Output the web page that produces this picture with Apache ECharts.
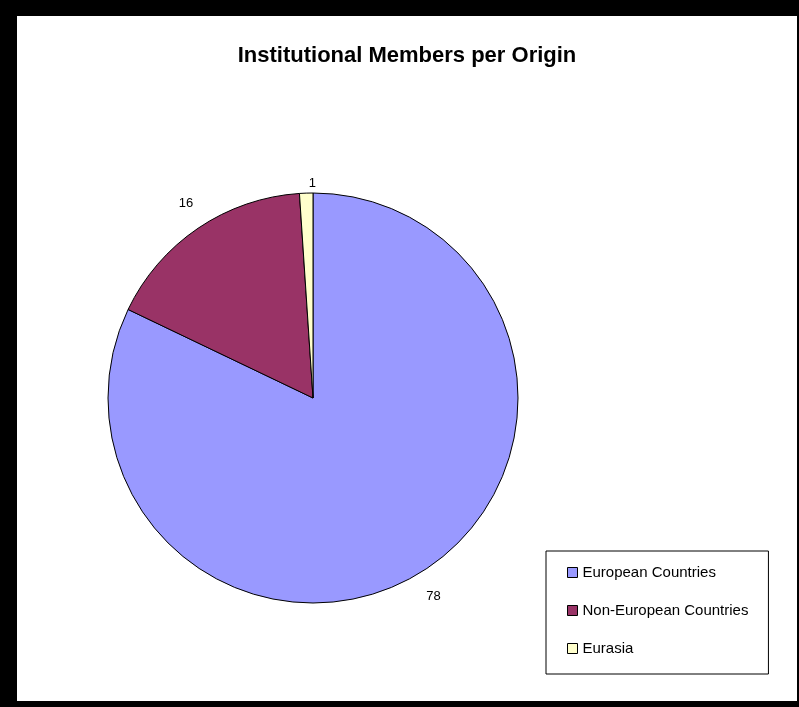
<!DOCTYPE html>
<html>
<head>
<meta charset="utf-8">
<script src="https://cdn.jsdelivr.net/npm/echarts@6/dist/echarts.min.js"></script>
<style>
  html, body { margin: 0; padding: 0; background: #000; width: 799px; height: 707px; overflow: hidden; }
  #chart { position: absolute; left: 17px; top: 16px; width: 780px; height: 685px; background: #fff; }
</style>
</head>
<body>
<div id="chart"></div>
<script>
const titleText = 'Institutional Members per Origin';
const categories = ['European Countries', 'Non-European Countries', 'Eurasia'];
const values = [78, 16, 1];
const colors = ['#9999FF', '#993366', '#FFFFCC'];

const chart = echarts.init(document.getElementById('chart'));
const data = categories.map((name, i) => {
  const item = { name: name, value: values[i], itemStyle: { color: colors[i] } };
  if (values[i] < 5) item.labelLine = { show: false, length: 10, length2: -15 };
  return item;
});

chart.setOption({
  backgroundColor: '#fff',
  animation: false,
  title: {
    text: titleText,
    left: 'center',
    top: 24,
    textStyle: { fontFamily: 'Liberation Sans', fontWeight: 'bold', fontSize: 22, color: '#000' }
  },
  legend: {
    orient: 'vertical',
    left: 529,
    top: 535,
    padding: [14, 20, 18, 21],
    itemGap: 23,
    itemWidth: 10,
    itemHeight: 10,
    icon: 'rect',
    borderColor: '#000',
    borderWidth: 1,
    data: categories,
    textStyle: { fontFamily: 'Liberation Sans', fontSize: 15, color: '#000' },
    itemStyle: { borderColor: '#000', borderWidth: 1 }
  },
  series: [{
    type: 'pie',
    center: [296, 382],
    radius: 205,
    startAngle: 90,
    clockwise: true,
    avoidLabelOverlap: false,
    itemStyle: { borderColor: '#000', borderWidth: 1 },
    label: {
      show: true,
      position: 'outside',
      formatter: '{c}',
      fontFamily: 'Liberation Sans',
      fontSize: 13,
      color: '#000'
    },
    labelLine: { show: false, length: 30, length2: -17 },
    emphasis: { disabled: true },
    data: data
  }]
});
</script>
</body>
</html>
